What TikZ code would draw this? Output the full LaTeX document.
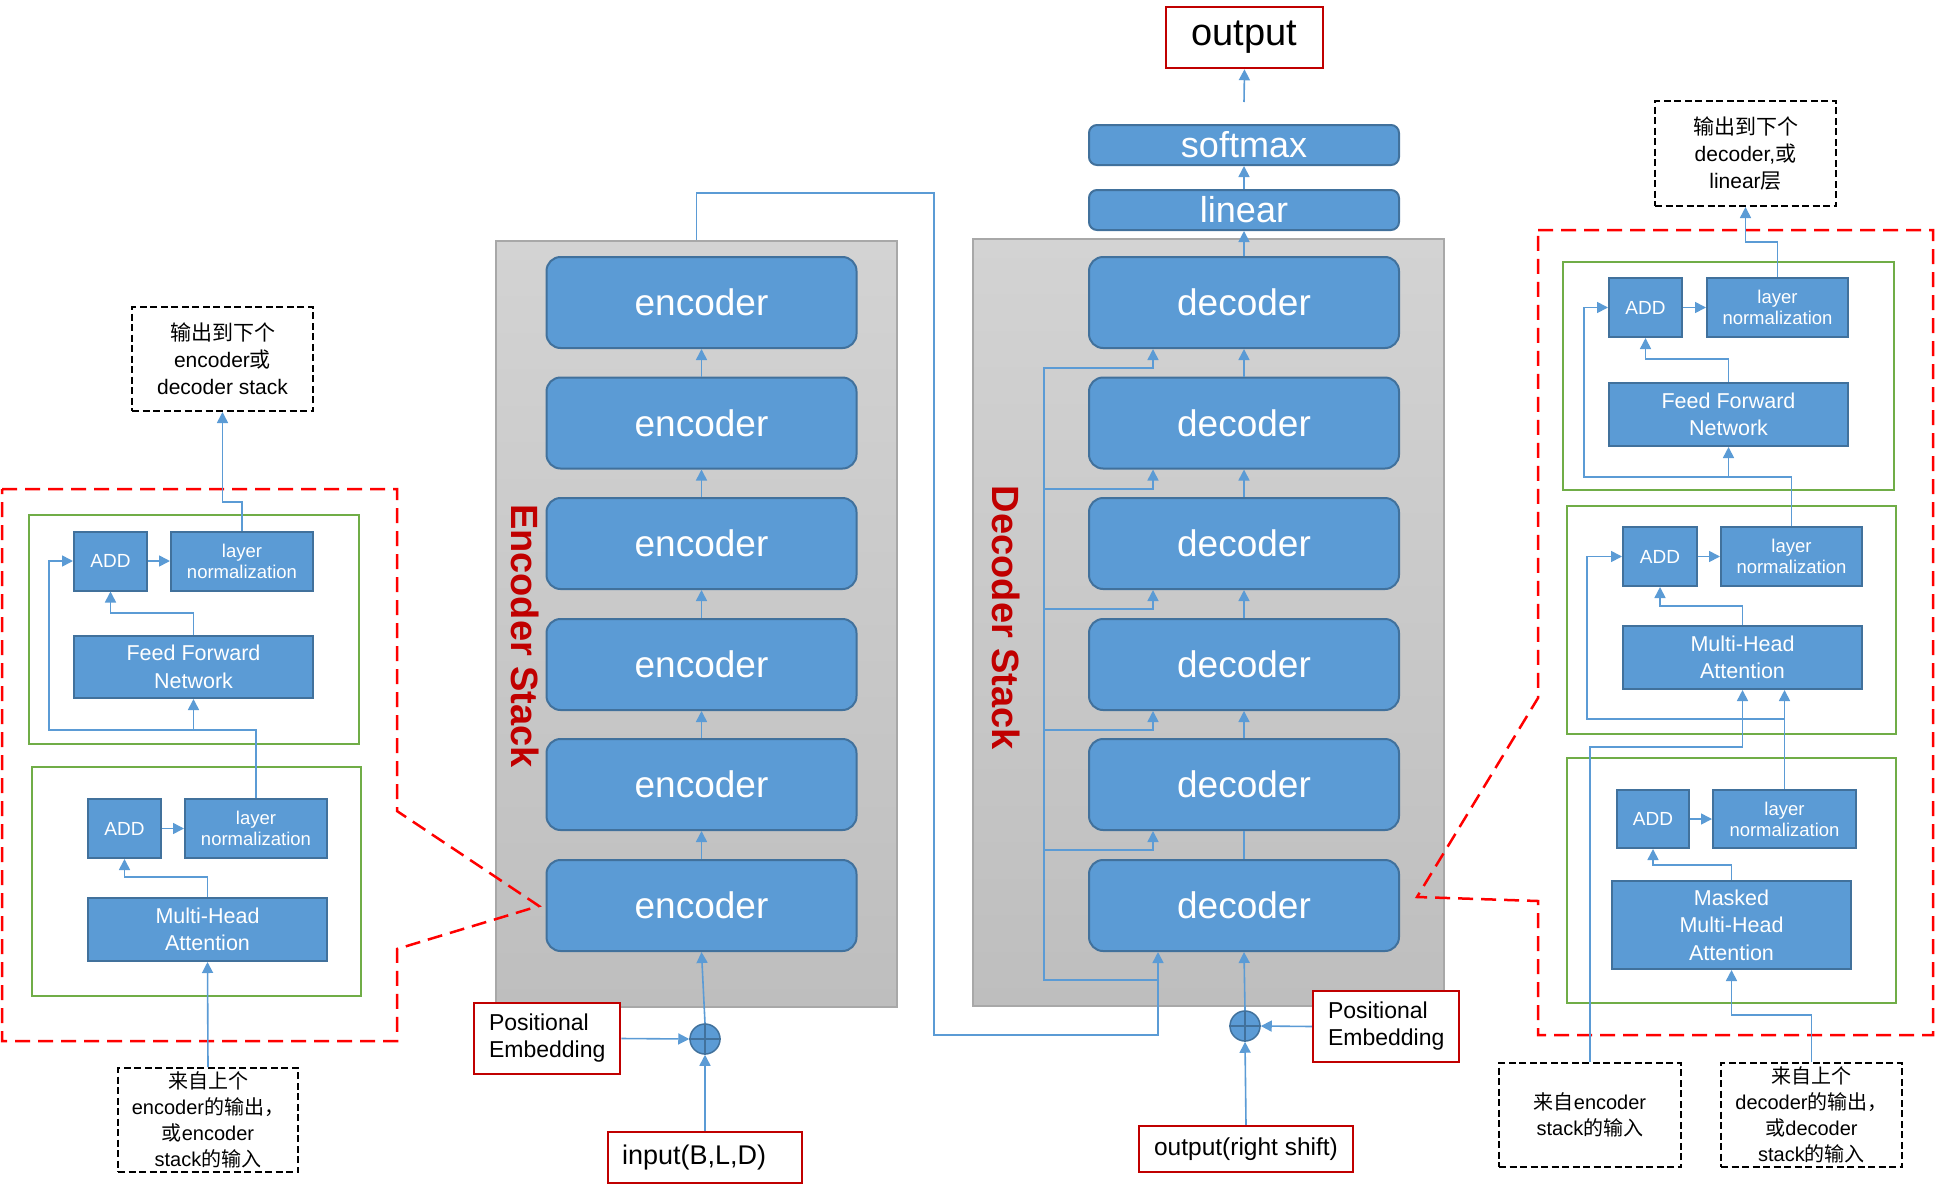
\documentclass[tikz,border=0pt]{standalone}
\usepackage{fontspec}
\setmainfont{Liberation Sans}
\newfontfamily\cjk{Noto Sans CJK SC}
\usetikzlibrary{arrows.meta}
\newcommand{\fsz}[2]{\fontsize{#1}{#2}\selectfont}
\definecolor{bluef}{HTML}{5B9BD5}
\definecolor{bluedk}{HTML}{41719C}
\definecolor{linec}{HTML}{5B9BD5}
\definecolor{redbox}{HTML}{C00000}
\definecolor{reddash}{HTML}{FF0000}
\definecolor{greenb}{HTML}{70AD47}
\definecolor{grayt}{HTML}{D3D3D3}
\definecolor{grayb}{HTML}{BEBEBE}
\definecolor{grayd}{HTML}{A8A8A8}
\definecolor{stackred}{HTML}{C00000}
\tikzset{
 conn/.style={draw=linec, line width=1.6pt},
 arr/.style={conn, -{Triangle[length=11pt,width=11pt]}},
 blk/.style={draw=bluedk, fill=bluef, text=white, line width=2pt, inner sep=0pt, align=center},
 stk/.style={blk, rounded corners=14pt, minimum width=310pt, minimum height=91pt, font=\fsz{37}{44}},
 topb/.style={blk, rounded corners=8pt, minimum width=310pt, minimum height=40pt, font=\fsz{36}{40}},
 addb/.style={blk, minimum width=73pt, minimum height=59pt, font=\fsz{19}{22}},
 lnb/.style={blk, minimum width=142pt, minimum height=59pt, font=\fsz{18.5}{21}},
 wideb/.style={blk, minimum width=239pt, minimum height=63pt, font=\fsz{21.5}{27.5}},
 rbox/.style={draw=redbox, line width=2.5pt, fill=white, text=black, inner sep=0pt},
 gbox/.style={draw=greenb, line width=2.2pt, inner sep=0pt},
 dbox/.style={draw=black, line width=2pt, dash pattern=on 7pt off 3.5pt, align=center, inner sep=0pt, minimum width=181pt, minimum height=104pt},
 rdash/.style={draw=reddash, line width=2.5pt, dash pattern=on 15pt off 8pt},
 grstack/.style={draw=grayd, line width=1.5pt, top color=grayt, bottom color=grayb, inner sep=0pt},
 sumc/.style={circle, draw=bluedk, fill=bluef, line width=1.5pt, minimum size=30pt, inner sep=0pt},
 stlabel/.style={text=stackred, font=\bfseries\fsz{38}{40}, rotate=-90, inner sep=0pt},
}
\begin{document}
\begin{tikzpicture}[x=1pt,y=-1pt]
\useasboundingbox (0,0) rectangle (1935,1191);

% ---------- stacks ----------
\node[grstack, minimum width=401pt, minimum height=766pt] (encstack) at (696.5,624) {};
\node[grstack, minimum width=471pt, minimum height=767pt] (decstack) at (1208.5,622.5) {};

% ---------- red dashed callouts ----------
\draw[rdash] (2,489) -- (397,489) -- (397,811) -- (539,906) -- (397,949) -- (397,1041) -- (2,1041) -- cycle;
\draw[rdash] (1538,230) -- (1933,230) -- (1933,1035) -- (1538,1035) -- (1538,901) -- (1417,897) -- (1538,698) -- cycle;

% ---------- stack labels ----------
\node[stlabel] (enclab) at (525,636) {Encoder Stack};
\node[stlabel] (declab) at (1006,618) {Decoder Stack};

% ---------- encoder boxes ----------
\node[stk] (enc1) at (701.5,302.5) {encoder};
\node[stk] (enc2) at (701.5,423) {encoder};
\node[stk] (enc3) at (701.5,543.5) {encoder};
\node[stk] (enc4) at (701.5,664.5) {encoder};
\node[stk] (enc5) at (701.5,784.5) {encoder};
\node[stk] (enc6) at (701.5,905.5) {encoder};

% ---------- decoder boxes ----------
\node[stk] (dec1) at (1244,302.5) {decoder};
\node[stk] (dec2) at (1244,423) {decoder};
\node[stk] (dec3) at (1244,543.5) {decoder};
\node[stk] (dec4) at (1244,664.5) {decoder};
\node[stk] (dec5) at (1244,784.5) {decoder};
\node[stk] (dec6) at (1244,905.5) {decoder};

% ---------- top ----------
\node[topb] (lin) at (1244,210) {linear};
\node[topb] (sm) at (1244,145) {softmax};
\node[rbox, minimum width=157pt, minimum height=61pt, font=\fsz{38}{42}] (outp) at (1244.5,37.5) {output};

% ---------- inputs ----------
\node[sumc] (esum) at (705,1039) {};
\draw[bluedk, line width=1.5pt] (esum.north) -- (esum.south) (esum.west) -- (esum.east);
\node[rbox, minimum width=146pt, minimum height=71pt, text width=116pt, inner xsep=15pt, align=left, font=\fsz{23}{27}] (pe1) at (547,1038.5) {Positional\\Embedding};
\node[rbox, minimum width=194pt, minimum height=51pt, text width=166pt, inner xsep=14pt, align=left, font=\fsz{27}{30}] (inp) at (705,1157.5) {input(B,L,D)};

\node[sumc] (dsum) at (1245,1026) {};
\draw[bluedk, line width=1.5pt] (dsum.north) -- (dsum.south) (dsum.west) -- (dsum.east);
\node[rbox, minimum width=146pt, minimum height=71pt, text width=116pt, inner xsep=15pt, align=left, font=\fsz{23}{27}] (pe2) at (1386,1026.5) {Positional\\Embedding};
\node[rbox, minimum width=214pt, minimum height=46pt, font=\fsz{24.5}{28}] (ors) at (1246,1149) {output(right shift)};

% ---------- left panel ----------
\node[dbox, font=\fsz{21}{27}] (dL) at (222.5,359) {{\cjk 输出到下个}\\encoder{\cjk 或}\\decoder stack};
\node[gbox, minimum width=330pt, minimum height=229pt] (gL1) at (194,629.5) {};
\node[gbox, minimum width=329pt, minimum height=229pt] (gL2) at (196.5,881.5) {};
\node[addb] (ADD1) at (110.5,561) {ADD};
\node[lnb] (LN1) at (242,561) {layer\\normalization};
\node[wideb, minimum height=62pt] (FFN1) at (193.5,667) {Feed Forward\\Network};
\node[addb] (ADD2) at (124.5,828.5) {ADD};
\node[lnb] (LN2) at (256,828.5) {layer\\normalization};
\node[wideb] (MHA1) at (207.5,929.5) {Multi-Head\\Attention};
\node[dbox, minimum width=180pt, font=\fsz{20}{26}] (dB1) at (208,1120) {{\cjk 来自上个}\\encoder{\cjk 的输出，}\\{\cjk 或}encoder\\stack{\cjk 的输入}};

% ---------- right panel ----------
\node[dbox, minimum height=105pt, font=\fsz{21}{27}] (dR) at (1745.5,153.5) {{\cjk 输出到下个}\\decoder,{\cjk 或}\\linear{\cjk 层}};
\node[gbox, minimum width=331pt, minimum height=228pt] (gR1) at (1728.5,376) {};
\node[gbox, minimum width=329pt, minimum height=228pt] (gR2) at (1731.5,620) {};
\node[gbox, minimum width=329pt, minimum height=245pt] (gR3) at (1731.5,880.5) {};
\node[addb] (ADDr1) at (1645.5,307.5) {ADD};
\node[lnb, minimum width=141pt] (LNr1) at (1777.5,307.5) {layer\\normalization};
\node[wideb] (FFNr) at (1728.5,414.5) {Feed Forward\\Network};
\node[addb, minimum width=74pt] (ADDr2) at (1660,556.5) {ADD};
\node[lnb, minimum width=141pt] (LNr2) at (1791.5,556.5) {layer\\normalization};
\node[wideb] (MHAr) at (1742.5,657.5) {Multi-Head\\Attention};
\node[addb, minimum width=72pt, minimum height=58pt] (ADDr3) at (1653,819) {ADD};
\node[lnb, minimum width=143pt, minimum height=58pt] (LNr3) at (1784.5,819) {layer\\normalization};
\node[wideb, minimum height=88pt] (MMHA) at (1731.5,925) {Masked\\Multi-Head\\Attention};
\node[dbox, minimum width=182pt, font=\fsz{20}{26}] (dE) at (1590,1115) {{\cjk 来自}encoder\\stack{\cjk 的输入}};
\node[dbox, font=\fsz{20}{26}] (dD) at (1811.5,1115) {{\cjk 来自上个}\\decoder{\cjk 的输出，}\\{\cjk 或}decoder\\stack{\cjk 的输入}};

% ---------- connectors: main ----------
\draw[arr] (dec1.north) -- (lin.south);
\draw[arr] (lin.north) -- (sm.south);
\draw[arr] ([yshift=22pt]sm.north) -- (outp.south);

\foreach \a/\b in {enc2/enc1, enc3/enc2, enc4/enc3, enc5/enc4, enc6/enc5}
  \draw[arr] (\a.north) -- (\b.south);
\draw[arr] (esum.north) -- (enc6.south);
\draw[arr] (pe1.east) -- (esum.west);
\draw[arr] (inp.north) -- (esum.south);

\foreach \a/\b in {dec2/dec1, dec3/dec2, dec4/dec3, dec5/dec4}
  \draw[arr] (\a.north) -- (\b.south);
\draw[conn] (dec6.north) -- (dec5.south);
\draw[arr] (dsum.north) -- (dec6.south);
\draw[arr] (pe2.west) -- (dsum.east);
\draw[arr] (ors.north) -- (dsum.south);

\coordinate (cA) at (934,193);
\coordinate (cB) at (1158,1035);
\draw[arr] (encstack.north) |- (cA) |- (cB) -- (dec6.south -| cB);

\coordinate (fT) at (1044,367);
\coordinate (fB) at (1044,980);
\coordinate (xA) at (1153,0);
\draw[conn] (fT) -- (fB) -- (fB -| cB);
\foreach \k/\y in {1/368,2/489,3/609,4/730,5/850}
  \draw[arr] (1044,\y) -| (dec\k.south -| xA);

% ---------- connectors: left panel ----------
\draw[arr] (LN1.north) -- ++(0,-28.5) -| (dL.south);
\draw[arr] (ADD1.east) -- (LN1.west);
\draw[arr] (FFN1.north) -- ++(0,-22) -| (ADD1.south);
\coordinate (j1) at (193.5,730);
\draw[arr] (LN2.north) |- (j1) -- (FFN1.south);
\draw[arr] (j1) -- (49,730) |- (ADD1.west);
\draw[arr] (ADD2.east) -- (LN2.west);
\draw[arr] (MHA1.north) -- ++(0,-20) -| (ADD2.south);
\draw[arr] (dB1.north) -- (MHA1.south);

% ---------- connectors: right panel ----------
\draw[arr] (LNr1.north) -- ++(0,-35) -| (dR.south);
\draw[arr] (ADDr1.east) -- (LNr1.west);
\draw[arr] (FFNr.north) -- ++(0,-23) -| (ADDr1.south);
\coordinate (j2) at (1728.5,477);
\draw[arr] (LNr2.north) |- (j2) -- (FFNr.south);
\draw[arr] (j2) -- (1584,477) |- (ADDr1.west);
\draw[arr] (ADDr2.east) -- (LNr2.west);
\draw[arr] (MHAr.north) -- ++(0,-19) -| (ADDr2.south);
\draw[arr] (LNr3.north) -- (MHAr.south -| LNr3.north);
\coordinate (j3) at (1784.5,719);
\draw[arr] (j3) -- (1587,719) |- (ADDr2.west);
\draw[arr] (dE.north) -- (1590,747) -| (MHAr.south);
\draw[arr] (ADDr3.east) -- (LNr3.west);
\draw[arr] (MMHA.north) -- ++(0,-15) -| (ADDr3.south);
\draw[arr] (dD.north) -- ++(0,-47) -| (MMHA.south);
\end{tikzpicture}
\end{document}
